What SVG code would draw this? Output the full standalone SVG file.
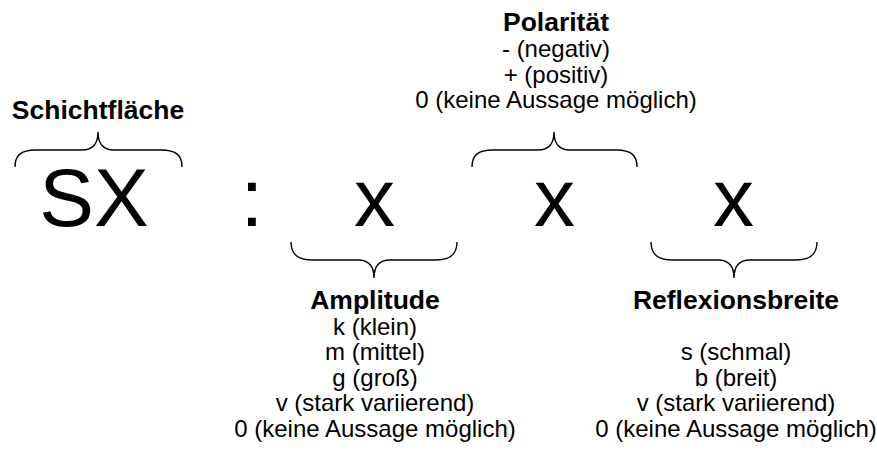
<svg xmlns="http://www.w3.org/2000/svg" width="877" height="450" viewBox="0 0 877 450">
  <style>
    text { font-family: "Liberation Sans", Arial, sans-serif; fill: #000; text-anchor: middle; }
    .title { font-size: 26.5px; font-weight: bold; }
    .item { font-size: 24px; }
    .code { font-size: 82px; }
    .brace { fill: none; stroke: #000; stroke-width: 1.4; }
  </style>
  <rect width="877" height="450" fill="#fff"/>

  <!-- the code letters -->
  <g id="code">
    <text class="code" x="94" y="226">SX</text>
    <text class="code" x="252" y="226">:</text>
    <text class="code" x="374.5" y="226">x</text>
    <text class="code" x="554.5" y="226">x</text>
    <text class="code" x="733.5" y="226">x</text>
  </g>

  <!-- braces linking each position to its legend -->
  <g id="braces">
    <path class="brace" d="M15,167 C15,156 20,150 36,150 L82,150 C93,150 98,144 98,132 C98,144 103,150 114,150 L161,150 C177,150 182,156 182,167"/>
    <path class="brace" d="M472,167 C472,156 477,150 493,150 L538,150 C549,150 554,144 554,132 C554,144 559,150 570,150 L616,150 C632,150 637,156 637,167"/>
    <path class="brace" d="M291,242 C291,253 296,260 312,260 L358,260 C369,260 374,266 374,278 C374,266 379,260 390,260 L436,260 C452,260 457,253 457,242"/>
    <path class="brace" d="M651,242 C651,253 656,260 672,260 L718,260 C729,260 734,266 734,278 C734,266 739,260 750,260 L796,260 C812,260 817,253 817,242"/>
  </g>

  <g id="schichtflaeche">
    <text class="title" x="98" y="119">Schichtfläche</text>
  </g>

  <g id="polaritaet">
    <text class="title" x="556" y="31">Polarität</text>
    <text class="item" x="556" y="57">- (negativ)</text>
    <text class="item" x="556" y="82.5">+ (positiv)</text>
    <text class="item" x="556" y="108">0 (keine Aussage möglich)</text>
  </g>

  <g id="amplitude">
    <text class="title" x="375" y="309">Amplitude</text>
    <text class="item" x="375" y="334.5">k (klein)</text>
    <text class="item" x="375" y="360">m (mittel)</text>
    <text class="item" x="375" y="385.5">g (groß)</text>
    <text class="item" x="375" y="411">v (stark variierend)</text>
    <text class="item" x="375" y="436.5">0 (keine Aussage möglich)</text>
  </g>

  <g id="reflexionsbreite">
    <text class="title" x="736" y="309">Reflexionsbreite</text>
    <text class="item" x="736" y="360">s (schmal)</text>
    <text class="item" x="736" y="385.5">b (breit)</text>
    <text class="item" x="736" y="411">v (stark variierend)</text>
    <text class="item" x="736" y="436.5">0 (keine Aussage möglich)</text>
  </g>
</svg>
